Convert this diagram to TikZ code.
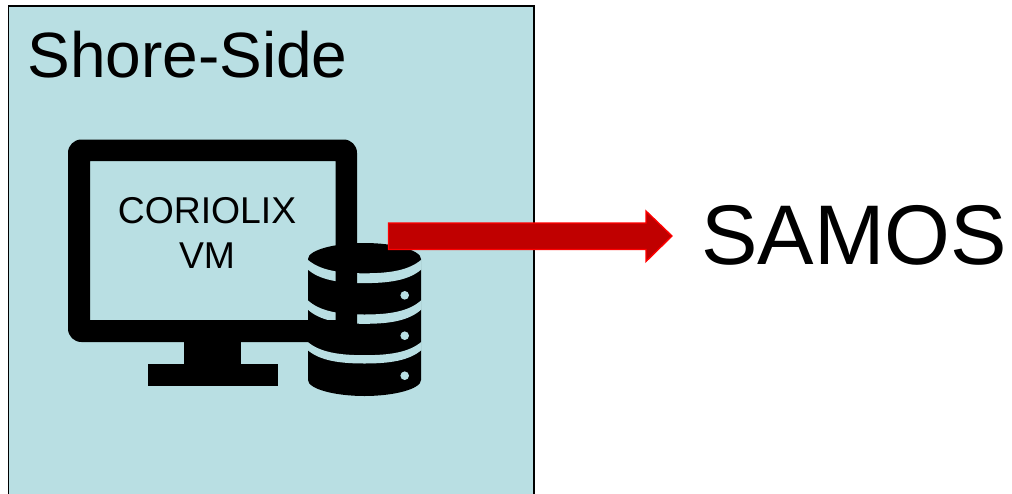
\documentclass[tikz,border=0pt]{standalone}
\usepackage{fontspec}
\setmainfont{Liberation Sans}
\definecolor{panel}{HTML}{B9DFE3}
\definecolor{arrowfill}{HTML}{C00000}
\tikzset{
  px/.style={x=0.75pt,y=-0.75pt},
  panelbox/.style={fill=panel,draw=black,line width=0.9pt},
  solidblack/.style={fill=black,draw=none},
  gapband/.style={fill=panel,draw=none},
  blockarrow/.style={fill=arrowfill,draw=red,line width=1pt,line join=miter},
  lbl/.style={anchor=base,inner sep=0pt,outer sep=0pt,text=black}
}
% curved gap band of the database, between side heights #1 and #2, sag #3
\newcommand{\dbgap}[3]{%
  \path[gapband] (307.5,#1) .. controls (320,{#1+0.8*#3}) and (340,{#1+#3}) .. (364.5,{#1+#3})
    .. controls (389,{#1+#3}) and (409,{#1+0.8*#3}) .. (421.5,#1)
    -- (421.5,#2) .. controls (409,{#2+0.8*#3}) and (389,{#2+#3}) .. (364.5,{#2+#3})
    .. controls (340,{#2+#3}) and (320,{#2+0.8*#3}) .. (307.5,#2) -- cycle;}
\begin{document}
\begin{tikzpicture}[px]
\useasboundingbox (0,0) rectangle (1012,493);
\clip (0,0) rectangle (1012,493);
\path[panelbox] (8.5,6) rectangle (534,510);
% database cylinder
\path[solidblack] (308,259) .. controls (308,250) and (335,243) .. (364.5,243)
  .. controls (394,243) and (421,250) .. (421,259)
  -- (421,380) .. controls (421,389) and (394,396) .. (364.5,396)
  .. controls (335,396) and (308,389) .. (308,380) -- cycle;
\dbgap{259.5}{269.3}{13.8}
\dbgap{300}{309.3}{14.5}
\dbgap{341.7}{350}{13.5}
\foreach \dy in {295.3,335.7,375.7}
  \path[gapband] (404.7,\dy) circle[radius=4.3];
% monitor
\path[solidblack,even odd rule,rounded corners=10pt] (68,139.5) rectangle (357,342)
  [sharp corners] (90,161) rectangle (335.5,320);
\path[solidblack] (184,341) rectangle (241,365);
\path[solidblack] (147.5,364) rectangle (277.5,385.5);
% arrow
\path[blockarrow] (388.5,223) -- (646,223) -- (646,211) -- (672,236) -- (646,261.5) -- (646,249.5) -- (388.5,249.5) -- cycle;
% labels
\node[lbl,font=\fontsize{48}{48}\selectfont] (shore) at (187.5,77) {Shore-Side};
\node[lbl,font=\fontsize{28}{28}\selectfont] (cor) at (207,223) {CORIOLIX};
\node[lbl,font=\fontsize{28}{28}\selectfont] (vm) at (207,268) {VM};
\node[lbl,font=\fontsize{63.5}{63.5}\selectfont] (samos) at (854,264) {SAMOS};
\end{tikzpicture}
\end{document}
